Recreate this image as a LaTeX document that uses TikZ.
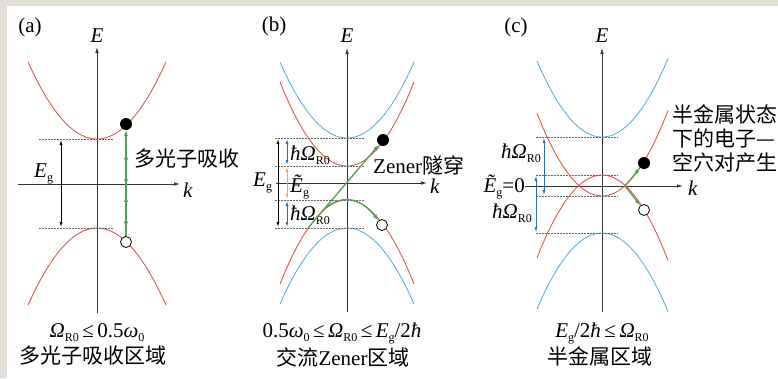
\documentclass[tikz,border=0pt]{standalone}
\usepackage{fontspec}
\setmainfont{Liberation Serif}
\newfontfamily\cjk{Noto Sans CJK SC}
\usetikzlibrary{positioning, arrows.meta, decorations.markings}
\definecolor{frameBeige}{HTML}{E4DED9}
\definecolor{axisGrey}{HTML}{333333}
\definecolor{levelGrey}{HTML}{666666}
\definecolor{bandRed}{HTML}{E8554C}
\definecolor{bandBlue}{HTML}{4AAEE0}
\definecolor{pumpGreen}{HTML}{55A05A}
\definecolor{gapBlue}{HTML}{2F6DB0}
\definecolor{gapOrange}{HTML}{F2A540}
\newcommand{\lowidx}[1]{\raisebox{-0.45ex}{\fontsize{12}{12}\selectfont #1}}

\begin{document}
\begin{tikzpicture}[x=1pt, y=-1pt, inner sep=0pt,
    font=\fontsize{21}{24}\selectfont,
    axisline/.style={-{Latex[length=6pt,width=3.5pt]}, axisGrey, line width=0.8pt},
    redband/.style={bandRed, line width=0.9pt},
    blueband/.style={bandBlue, line width=0.8pt},
    levelline/.style={levelGrey, line width=0.7pt, dash pattern=on 2pt off 1pt},
    gaparrow/.style={{Latex[length=5pt,width=3pt]}-{Latex[length=5pt,width=3pt]},
                     line width=0.8pt, shorten <=1pt, shorten >=1pt},
    elec/.style={circle, fill=black, minimum size=12pt},
    hole/.style={circle, draw=black, fill=white, line width=0.8pt, minimum size=11pt},
    pump/.style={-{Latex[length=6pt,width=4.5pt]}, pumpGreen, line width=1.3pt},
    cjklabel/.style={font=\cjk\fontsize{21}{24}\selectfont}]
  \useasboundingbox (0,0) rectangle (778,378);
  \fill[frameBeige] (0,0) rectangle (778,378);
  \fill[white] (7,6) rectangle (778,378);

  % (a) multiphoton absorption
  \node (la) at (30,27) {(a)};
  \coordinate (aKl) at (18,184);  \coordinate (aKr) at (180,184);
  \coordinate (aEb) at (97,313);  \coordinate (aEt) at (97,47);
  \draw[axisline] (aKl) -- (aKr);
  \draw[axisline] (aEb) -- (aEt);
  \node[anchor=base] (aE) at (97,42) {\textit{E}};
  \node[anchor=base west] (ak) at (183,197) {\textit{k}};
  \draw[redband] plot[domain=28:166, samples=50] (\x,{139-0.0162*(\x-97)^2});
  \draw[redband] plot[domain=28:166, samples=50] (\x,{228+0.0162*(\x-97)^2});
  \foreach \y in {139,228} \draw[levelline] (39,\y) -- (113,\y);
  \coordinate (aG1) at (61,139);  \coordinate (aG2) at (61,228);
  \draw[gaparrow] (aG1) -- (aG2);
  \node[anchor=base west] (aEg) at (34,177) {\textit{E}\lowidx{g}};
  \node[elec] (aEl) at (126,124) {};
  \node[hole] (aHo) at (126,242) {};
  \draw[pump, postaction={decorate}, decoration={markings,
        mark=between positions 0.18 and 0.9 step 0.2 with {\arrow{Latex[length=6pt,width=4.5pt]}}}]
    (aHo) -- (aEl);
  \node[cjklabel, anchor=west] (aLab) at (134,159) {多光子吸收};
  \node[anchor=base] (aCond) at (97,337) {\textit{Ω}\lowidx{R0}\,≤\,0.5\textit{ω}\lowidx{0}};
  \node[cjklabel] (aReg) at (93,356) {多光子吸收区域};

  % (b) ac Zener tunnelling
  \node (lb) at (274,26) {(b)};
  \coordinate (bKl) at (276,183); \coordinate (bKr) at (427,183);
  \coordinate (bEb) at (347,312); \coordinate (bEt) at (347,48);
  \draw[axisline] (bKl) -- (bKr);
  \draw[axisline] (bEb) -- (bEt);
  \node[anchor=base] (bE) at (347,42) {\textit{E}};
  \node[anchor=base west] (bk) at (430,193) {\textit{k}};
  \draw[blueband] plot[domain=280:414, samples=50] (\x,{138-0.0169*(\x-347)^2});
  \draw[blueband] plot[domain=280:414, samples=50] (\x,{228+0.0169*(\x-347)^2});
  \draw[redband] plot[domain=280:414, samples=50] (\x,{166-0.0187*(\x-347)^2});
  \draw[redband] plot[domain=280:414, samples=50] (\x,{200+0.0187*(\x-347)^2});
  \foreach \y in {138,166,200,228} \draw[levelline] (275,\y) -- (365,\y);
  \coordinate (bG1) at (278,138); \coordinate (bG2) at (278,228);
  \coordinate (b1) at (287,138);  \coordinate (b2) at (287,166);
  \coordinate (b3) at (287,200);  \coordinate (b4) at (287,228);
  \draw[gaparrow] (bG1) -- (bG2);
  \draw[gaparrow, gapBlue] (b1) -- (b2);
  \draw[gaparrow, gapOrange] (b2) -- (b3);
  \draw[gaparrow, gapBlue] (b3) -- (b4);
  \node[anchor=base west] (bEg) at (253,186) {\textit{E}\lowidx{g}};
  \node[anchor=base west] (bW1) at (290,160) {\textit{ħΩ}\lowidx{R0}};
  \node[anchor=base west] (bEt2) at (290,192) {\textit{Ẽ}\lowidx{g}};
  \node[anchor=base west] (bW2) at (290,220) {\textit{ħΩ}\lowidx{R0}};
  \node[elec] (bEl) at (383,140) {};
  \node[hole] (bHo) at (382,225) {};
  \coordinate (bS) at (308,228);
  \coordinate (bZ) at (322,211);
  \draw[pump] (bS) -- (bEl);
  \draw[pump] (bZ) .. controls (340,194) and (359,196) .. (bHo);
  \node[anchor=west] (bLab) at (373,165) {Zener{\cjk\fontsize{21}{24}\selectfont 隧穿}};
  \node[anchor=base] (bCond) at (342,337)
    {0.5\textit{ω}\lowidx{0}\,≤\,\textit{Ω}\lowidx{R0}\,≤\,\textit{E}\lowidx{g}/2\textit{ħ}};
  \node[cjklabel] (bReg) at (343,357) {交流{\rmfamily\fontsize{21}{24}\selectfont Zener}区域};

  % (c) semimetal
  \node (lc) at (516,27) {(c)};
  \coordinate (cKl) at (525,186); \coordinate (cKr) at (683,186);
  \coordinate (cEb) at (602,312); \coordinate (cEt) at (602,48);
  \draw[axisline] (cKl) -- (cKr);
  \draw[axisline] (cEb) -- (cEt);
  \node[anchor=base] (cE) at (602,42) {\textit{E}};
  \node[anchor=base west] (ck) at (688,195) {\textit{k}};
  \draw[blueband] plot[domain=537:668, samples=50] (\x,{137-0.018*(\x-602)^2});
  \draw[blueband] plot[domain=537:668, samples=50] (\x,{233+0.018*(\x-602)^2});
  \draw[redband] plot[domain=537:668, samples=50] (\x,{196-0.0196*(\x-602)^2});
  \draw[redband] plot[domain=537:668, samples=50] (\x,{175+0.0196*(\x-602)^2});
  \foreach \y in {137,175,196,233} \draw[levelline] (536,\y) -- (618,\y);
  \coordinate (c1) at (544,137);  \coordinate (c2) at (544,196);
  \coordinate (c3) at (536,175);  \coordinate (c4) at (536,233);
  \draw[gaparrow, gapBlue] (c1) -- (c2);
  \draw[gaparrow, gapBlue] (c3) -- (c4);
  \node[anchor=base east] (cW1) at (541,158) {\textit{ħΩ}\lowidx{R0}};
  \node[anchor=base east] (cEt2) at (525,192) {\textit{Ẽ}\lowidx{g}=0};
  \node[anchor=base east] (cW2) at (532,218) {\textit{ħΩ}\lowidx{R0}};
  \node[elec] (cEl) at (644,163) {};
  \node[hole] (cHo) at (644,210) {};
  \coordinate (cX) at (625,186);
  \draw[pump] (cX) -- (cEl);
  \draw[pump] (cX) -- (cHo);
  \node[cjklabel, anchor=north west, align=left] (cLab) at (672,104)
    {半金属状态\\下的电子—\\空穴对产生};
  \node[anchor=base] (cCond) at (602,337) {\textit{E}\lowidx{g}/2\textit{ħ}\,≤\,\textit{Ω}\lowidx{R0}};
  \node[cjklabel] (cReg) at (600,356) {半金属区域};
\end{tikzpicture}
\end{document}
